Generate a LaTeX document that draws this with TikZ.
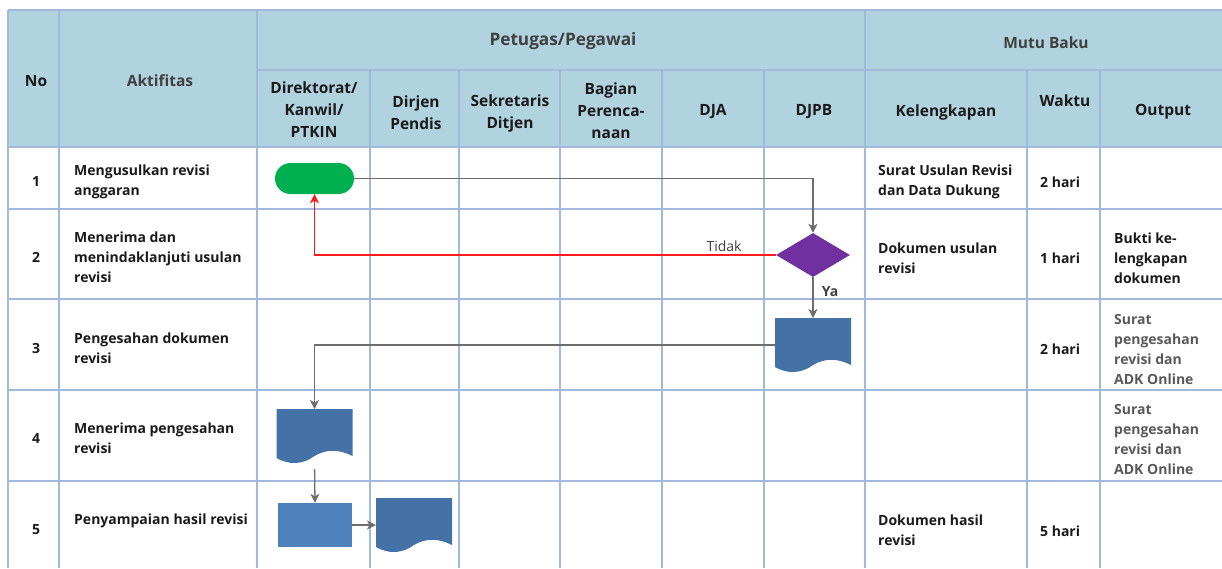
\documentclass[tikz,border=0pt]{standalone}
\usepackage{fontspec}
\setmainfont{Open Sans}
\usetikzlibrary{shapes.geometric,arrows.meta,calc}

\definecolor{hdrfill}{HTML}{B1D3DF}
\definecolor{gridline}{HTML}{A3B9DC}
\definecolor{termgreen}{HTML}{00B050}
\definecolor{decpurple}{HTML}{7030A0}
\definecolor{docblue}{HTML}{4471A6}
\definecolor{procblue}{HTML}{4F81BD}
\definecolor{flowgray}{HTML}{6D6D6D}
\definecolor{flowred}{HTML}{FF1A1A}
\definecolor{txtdark}{HTML}{1A1A1A}
\definecolor{txtgray}{HTML}{404040}
\definecolor{txtsoft}{HTML}{595959}

% document symbol: flat top, wavy bottom edge
\newcommand\docbody[1]{%
  \fill[docblue] (#1.north west) -- (#1.north east)
    -- ($(#1.north west)+(76,47)$)
    .. controls ($(#1.north west)+(62,40)$) and ($(#1.north west)+(50,40)$) .. ($(#1.north west)+(38,47)$)
    .. controls ($(#1.north west)+(26,56)$) and ($(#1.north west)+(12,56)$) .. ($(#1.north west)+(0,49)$)
    -- cycle;}

\begin{document}
\begin{tikzpicture}[x=1pt,y=-1pt,
  basefont/.style={font=\bfseries\fontsize{14}{20}\selectfont},
  colfont/.style={font=\bfseries\fontsize{15.5}{22}\selectfont},
  grpfont/.style={font=\bfseries\fontsize{17.2}{22}\selectfont},
  hdr/.style={colfont, text=txtdark, align=center, inner sep=0pt},
  hdrgray/.style={grpfont, text=txtgray, align=center, inner sep=0pt},
  cell/.style={basefont, text=txtdark, align=left, anchor=west, inner sep=0pt},
  cellsoft/.style={basefont, text=txtsoft, align=left, anchor=west, inner sep=0pt},
  num/.style={basefont, text=txtdark, inner sep=0pt},
  grid/.style={draw=gridline, line width=1.3pt},
  terminal/.style={fill=termgreen, minimum width=79pt, minimum height=31pt, rounded corners=15.5pt, inner sep=0pt},
  decision/.style={diamond, fill=decpurple, minimum width=74pt, minimum height=44pt, inner sep=0pt, aspect=1.68},
  process/.style={fill=procblue, minimum width=74pt, minimum height=44pt, inner sep=0pt},
  docnode/.style={minimum width=76pt, minimum height=54pt, inner sep=0pt, outer sep=0pt},
  flow/.style={draw=flowgray, line width=1.3pt, -{Stealth[length=9pt,width=9pt,inset=2.5pt]}},
  back/.style={draw=flowred, line width=1.4pt, -{Stealth[length=9pt,width=9pt,inset=2.5pt]}},
]
\useasboundingbox (0,0) rectangle (1222,568);

% header band
\fill[hdrfill] (8,10) rectangle (1222,147);

% table rules
\draw[grid] (8,10) -- (1222,10);
\draw[grid] (257,70) -- (1222,70);
\foreach \yy in {147,209,299,390,481} \draw[grid] (8,\yy) -- (1222,\yy);
\foreach \xx in {8,59,257,865} \draw[grid] (\xx,10) -- (\xx,568);
\foreach \xx in {370,459,560,662,764,1027,1100} \draw[grid] (\xx,70) -- (\xx,568);

% header texts
\node[hdr] (hNo) at (36,81) {No};
\node[hdrgray, colfont] (hAkt) at (160,81) {Aktifitas};
\node[hdrgray] (hPet) at (563,41) {Petugas/Pegawai};
\node[hdrgray, colfont] (hMutu) at (1046,43) {Mutu Baku};
\node[hdr] (hDir) at (314,110) {Direktorat/\\Kanwil/\\PTKIN};
\node[hdr] (hDirjen) at (416,113) {Dirjen\\Pendis};
\node[hdr] (hSek) at (510,113) {Sekretaris\\Ditjen};
\node[hdr] (hBag) at (611,111) {Bagian\\Perenca-\\naan};
\node[hdr] (hDJA) at (713,112) {DJA};
\node[hdr] (hDJPB) at (814,112) {DJPB};
\node[hdr] (hKel) at (946,112) {Kelengkapan};
\node[hdr] (hWak) at (1065,101) {Waktu};
\node[hdr] (hOut) at (1163,112) {Output};

% row numbers
\node[num] (n1) at (36,181) {1};
\node[num] (n2) at (36,257) {2};
\node[num] (n3) at (36,348) {3};
\node[num] (n4) at (36,438) {4};
\node[num] (n5) at (36,530) {5};

% activities
\node[cell] (a1) at (74,182) {Mengusulkan revisi\\anggaran};
\node[cell] (a2) at (74,257) {Menerima dan\\menindaklanjuti usulan\\revisi};
\node[cell] (a3) at (74,348) {Pengesahan dokumen\\revisi};
\node[cell] (a4) at (74,438) {Menerima pengesahan\\revisi};
\node[cell] (a5) at (74,521) {Penyampaian hasil revisi};

% completeness
\node[cell] (k1) at (878,182) {Surat Usulan Revisi\\dan Data Dukung};
\node[cell] (k2) at (878,258) {Dokumen usulan\\revisi};
\node[cell] (k5) at (878,530) {Dokumen hasil\\revisi};

% time
\node[cell] (w1) at (1040,182) {2 hari};
\node[cell] (w2) at (1040,258) {1 hari};
\node[cell] (w3) at (1040,349) {2 hari};
\node[cell] (w5) at (1040,531) {5 hari};

% output
\node[cell] (o2) at (1114,258) {Bukti ke-\\lengkapan\\dokumen};
\node[cellsoft] (o3) at (1114,349) {Surat\\pengesahan\\revisi dan\\ADK Online};
\node[cellsoft] (o4) at (1114,439) {Surat\\pengesahan\\revisi dan\\ADK Online};

% flow symbols
\node[terminal] (start) at (314.5,178.5) {};
\node[decision] (check) at (813,255) {};
\node[docnode] (doc1) at (813,345) {};
\node[docnode] (doc2) at (314.5,436) {};
\node[process] (proc) at (315,525) {};
\node[docnode] (doc3) at (414,525) {};
\docbody{doc1}
\docbody{doc2}
\docbody{doc3}

% connectors
\draw[flow] (start.east) -| (check.north);
\draw[back] (check.west) -| (start.south);
\node[font=\fontsize{14}{20}\selectfont, text=txtgray, inner sep=0pt] (tidak) at (724,246) {Tidak};
\draw[flow] (check.south) -- (doc1.north);
\node[basefont, text=txtgray, inner sep=0pt] (ya) at (830,292) {Ya};
\draw[flow] (doc1.west) -| (doc2.north);
\draw[flow, shorten <=6pt] (doc2.south) -- (proc.north);
\draw[flow] (proc.east) -- (doc3.west);
\end{tikzpicture}
\end{document}
